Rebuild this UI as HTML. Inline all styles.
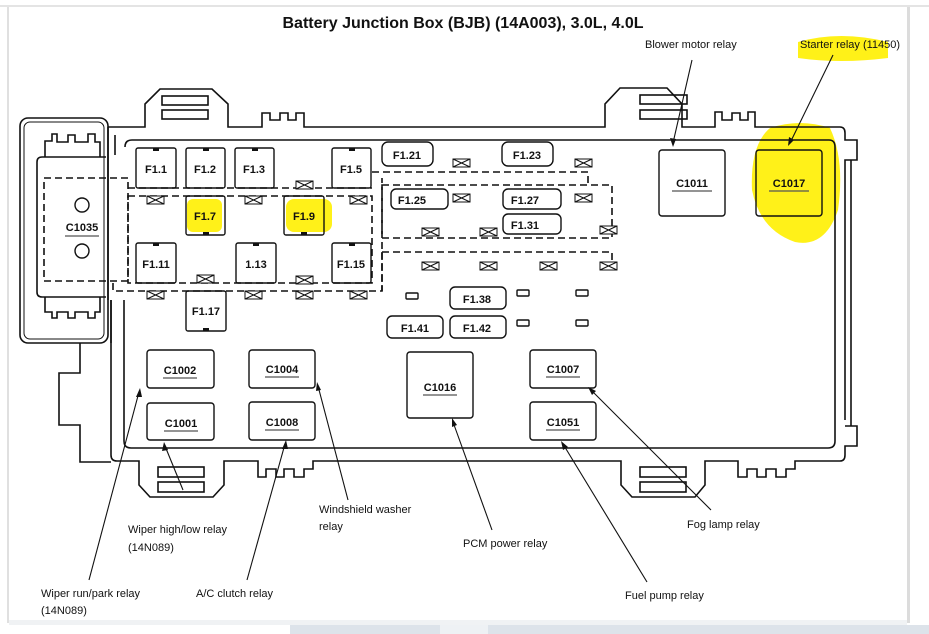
<!DOCTYPE html>
<html><head><meta charset="utf-8"><style>
html,body{margin:0;padding:0;background:#fff;width:929px;height:634px;overflow:hidden}
svg{display:block}
text{font-family:"Liberation Sans",sans-serif;fill:#111}
</style></head><body>
<svg width="929" height="634" viewBox="0 0 929 634" xmlns="http://www.w3.org/2000/svg">
<defs>
<g id="cx"><rect x="0" y="0" width="17" height="8" fill="#fff" stroke="#111" stroke-width="1"/><path d="M0 0 L17 8 M17 0 L0 8" fill="none" stroke="#111" stroke-width="1"/></g>
</defs>
<rect x="0" y="0" width="929" height="634" fill="#fff"/>
<rect x="0" y="5" width="929" height="2" fill="#e4e4e4"/>
<rect x="7" y="7" width="2" height="616" fill="#e0e0e0"/>
<rect x="907" y="7" width="3" height="616" fill="#dcdcdc"/>
<rect x="9" y="620" width="898" height="5" fill="#f0f2f4"/>
<rect x="0" y="625" width="929" height="9" fill="#fff"/>
<rect x="290" y="625" width="150" height="9" fill="#dde3ea"/>
<rect x="440" y="625" width="48" height="9" fill="#eef1f4"/>
<rect x="488" y="625" width="441" height="9" fill="#dde3ea"/>

<!-- yellow highlights -->
<g fill="#fff000" opacity="0.9">
<path d="M798 42 Q840 30 888 42 L888 58 Q840 64 798 58 Z"/>
<path d="M770 128 Q800 118 830 128 Q845 160 838 210 Q825 248 795 242 Q760 230 752 190 Q750 145 770 128 Z"/>
<rect x="187" y="199" width="35" height="33" rx="6"/>
<rect x="286" y="199" width="46" height="33" rx="8"/>
</g>

<text x="463" y="28" font-size="16" font-weight="bold" text-anchor="middle">Battery Junction Box (BJB) (14A003), 3.0L, 4.0L</text>

<g fill="none" stroke="#111" stroke-width="1.6">
<path d="M108 127 L145 127 L145 104 L160 89 L212 89 L228 104 L228 127 L262 127 L262 113 L270 113 L270 120 L280 120 L280 113 L288 113 L288 120 L296 120 L296 113 L304 113 L304 127 L605 127 L605 104 L620 88 L667 88 L682 104 L682 127 L715 127 L715 112 L722 112 L722 120 L732 120 L732 113 L740 113 L740 120 L748 120 L748 112 L755 112 L755 127 L840 127 Q845 127 845 133 L845 140 L857 140 L857 160 L845 160 L845 420"/>
<rect x="162" y="96" width="46" height="9"/>
<rect x="162" y="110" width="46" height="9"/>
<rect x="640" y="95" width="47" height="9"/>
<rect x="640" y="110" width="47" height="9"/>
<path d="M125 147 Q125 140 132 140 L829 140 Q835 140 835 147 L835 441 Q835 448 828 448 L131 448 Q124 448 124 441 L124 300"/>
<path d="M851 160 L851 426"/>
<path d="M111 300 L111 455 Q111 461 117 461 L139 461 L139 485 L150 497 L213 497 L224 485 L224 461 L258 461 L258 477 L266 477 L266 469 L276 469 L276 477 L284 477 L284 469 L294 469 L294 477 L304 477 L304 469 L313 469 L313 461 L621 461 L621 485 L632 497 L695 497 L705 485 L705 461 L738 461 L738 477 L747 477 L747 469 L757 469 L757 477 L766 477 L766 469 L776 469 L776 477 L786 477 L786 469 L795 469 L795 461 L840 461 Q845 461 845 455 L845 446 L857 446 L857 426 L845 426"/>
<rect x="158" y="467" width="46" height="10"/>
<rect x="158" y="482" width="46" height="10"/>
<rect x="640" y="467" width="46" height="10"/>
<rect x="640" y="482" width="46" height="10"/>
<rect x="20" y="118" width="88" height="225" rx="8"/>
<rect x="24" y="122" width="80" height="217" rx="6" stroke-width="1"/>
<path d="M37 162 Q37 157 42 157 L106 157 M37 162 L37 292 Q37 297 42 297 L106 297"/>
<path d="M45 157 L45 141 L52 141 L52 134 L57 134 L57 142 L68 142 L68 135 L75 135 L75 142 L88 142 L88 134 L95 134 L95 142 L100 142 L100 157"/>
<path d="M45 297 L45 312 L52 312 L52 318 L57 318 L57 312 L68 312 L68 318 L75 318 L75 312 L88 312 L88 318 L95 318 L95 312 L100 312 L100 297"/>
<path d="M80 343 L80 373 L59 373 L59 425 L80 425 L80 462 L111 462"/>
<path d="M108 127 L108 300 M115 135 L115 155 M111 300 L111 343"/>
</g>

<g fill="none" stroke="#111" stroke-width="1.6" stroke-dasharray="7,4">
<rect x="44" y="178" width="84" height="103"/>
<path d="M128 188 L372 188"/>
<rect x="128" y="196" width="244" height="87"/>
<path d="M113 283 L113 291 L382 291 L382 178"/>
<path d="M372 172 L588 172 L588 185"/>
<rect x="382" y="185" width="230" height="53"/>
<path d="M382 252 L612 252 L612 262 M382 252 L382 291"/>
</g>

<use href="#cx" x="147" y="196"/><use href="#cx" x="245" y="196"/><use href="#cx" x="296" y="181"/><use href="#cx" x="350" y="196"/>
<use href="#cx" x="197" y="275"/><use href="#cx" x="296" y="276"/>
<use href="#cx" x="147" y="291"/><use href="#cx" x="245" y="291"/><use href="#cx" x="296" y="291"/><use href="#cx" x="350" y="291"/>
<use href="#cx" x="453" y="159"/><use href="#cx" x="575" y="159"/><use href="#cx" x="453" y="194"/><use href="#cx" x="575" y="194"/>
<use href="#cx" x="422" y="228"/><use href="#cx" x="480" y="228"/><use href="#cx" x="600" y="226"/>
<use href="#cx" x="422" y="262"/><use href="#cx" x="480" y="262"/><use href="#cx" x="540" y="262"/><use href="#cx" x="600" y="262"/>

<g fill="none" stroke="#111" stroke-width="1.4">
<rect x="136" y="148" width="40" height="40" rx="2"/>
<rect x="186" y="148" width="39" height="40" rx="2"/>
<rect x="235" y="148" width="39" height="40" rx="2"/>
<rect x="332" y="148" width="39" height="40" rx="2"/>
<rect x="186" y="196" width="39" height="39" rx="2"/>
<rect x="284" y="196" width="40" height="39" rx="2"/>
<rect x="136" y="243" width="40" height="40" rx="2"/>
<rect x="236" y="243" width="40" height="40" rx="2"/>
<rect x="332" y="243" width="39" height="40" rx="2"/>
<rect x="186" y="291" width="40" height="40" rx="2"/>
<rect x="382" y="142" width="51" height="24" rx="6"/>
<rect x="502" y="142" width="51" height="24" rx="6"/>
<rect x="391" y="189" width="57" height="20" rx="5"/>
<rect x="503" y="189" width="58" height="20" rx="5"/>
<rect x="503" y="214" width="58" height="20" rx="5"/>
<rect x="450" y="287" width="56" height="22" rx="5"/>
<rect x="387" y="316" width="56" height="22" rx="5"/>
<rect x="450" y="316" width="56" height="22" rx="5"/>
<rect x="406" y="293" width="12" height="6" rx="1"/>
<rect x="517" y="290" width="12" height="6" rx="1"/>
<rect x="576" y="290" width="12" height="6" rx="1"/>
<rect x="517" y="320" width="12" height="6" rx="1"/>
<rect x="576" y="320" width="12" height="6" rx="1"/>
<circle cx="82" cy="205" r="7"/>
<circle cx="82" cy="251" r="7"/>
<rect x="659" y="150" width="66" height="66" rx="3"/>
<rect x="756" y="150" width="66" height="66" rx="3"/>
<rect x="147" y="350" width="67" height="38" rx="3"/>
<rect x="249" y="350" width="66" height="38" rx="3"/>
<rect x="407" y="352" width="66" height="66" rx="3"/>
<rect x="530" y="350" width="66" height="38" rx="3"/>
<rect x="147" y="403" width="67" height="37" rx="3"/>
<rect x="249" y="402" width="66" height="38" rx="3"/>
<rect x="530" y="402" width="66" height="38" rx="3"/>
</g>
<g fill="#111">
<rect x="153" y="148" width="6" height="3"/><rect x="203" y="148" width="6" height="3"/><rect x="252" y="148" width="6" height="3"/><rect x="349" y="148" width="6" height="3"/>
<rect x="203" y="232" width="6" height="3"/><rect x="301" y="232" width="6" height="3"/>
<rect x="153" y="243" width="6" height="3"/><rect x="253" y="243" width="6" height="3"/><rect x="349" y="243" width="6" height="3"/>
<rect x="203" y="328" width="6" height="3"/>
</g>

<g font-size="11" text-anchor="middle" font-weight="bold">
<text x="156" y="173">F1.1</text><text x="205" y="173">F1.2</text><text x="254" y="173">F1.3</text><text x="351" y="173">F1.5</text>
<text x="205" y="220">F1.7</text><text x="304" y="220">F1.9</text>
<text x="156" y="268">F1.11</text><text x="256" y="268">1.13</text><text x="351" y="268">F1.15</text>
<text x="206" y="315">F1.17</text>
<text x="407" y="159">F1.21</text><text x="527" y="159">F1.23</text>
<text x="412" y="204">F1.25</text><text x="525" y="204">F1.27</text><text x="525" y="229">F1.31</text>
<text x="477" y="303">F1.38</text><text x="415" y="332">F1.41</text><text x="477" y="332">F1.42</text>
</g>
<g font-size="11" text-anchor="middle" font-weight="bold">
<text x="82" y="231">C1035</text>
<text x="692" y="187">C1011</text><text x="789" y="187">C1017</text>
<text x="180" y="374">C1002</text><text x="282" y="373">C1004</text><text x="440" y="391">C1016</text><text x="563" y="373">C1007</text>
<text x="181" y="427">C1001</text><text x="282" y="426">C1008</text><text x="563" y="426">C1051</text>
</g>
<g stroke="#555" stroke-width="1.2">
<path d="M65 236 L99 236 M672 191 L712 191 M769 191 L809 191 M163 378 L197 378 M265 377 L299 377 M423 395 L457 395 M546 377 L580 377 M164 431 L198 431 M265 430 L299 430 M546 430 L580 430"/>
</g>

<g stroke="#111" stroke-width="1.1" fill="none">
<path d="M692 60 L673 143"/><path d="M833 55 L790 143"/>
<path d="M183 490 L165 446"/><path d="M348 500 L318 386"/>
<path d="M89 580 L139 392"/><path d="M247 580 L285 444"/>
<path d="M492 530 L453 422"/><path d="M711 510 L591 390"/>
<path d="M647 582 L563 444"/>
</g>
<g fill="#111">
<path d="M673 147 L670 138 L676 139 Z"/><path d="M788 146 L789 137 L794 140 Z"/>
<path d="M164 442 L162 451 L168 450 Z"/><path d="M317 382 L316 391 L321 390 Z"/>
<path d="M140 388 L136 397 L142 397 Z"/><path d="M286 440 L282 449 L288 449 Z"/>
<path d="M452 418 L452 427 L457 425 Z"/><path d="M588 387 L592 395 L596 391 Z"/>
<path d="M561 441 L563 450 L568 447 Z"/>
</g>

<g font-size="11">
<text x="645" y="48">Blower motor relay</text>
<text x="800" y="48">Starter relay (11450)</text>
<text x="128" y="533">Wiper high/low relay</text><text x="128" y="551">(14N089)</text>
<text x="319" y="513">Windshield washer</text><text x="319" y="530">relay</text>
<text x="463" y="547">PCM power relay</text>
<text x="687" y="528">Fog lamp relay</text>
<text x="41" y="597">Wiper run/park relay</text><text x="41" y="614">(14N089)</text>
<text x="196" y="597">A/C clutch relay</text>
<text x="625" y="599">Fuel pump relay</text>
</g>
</svg>
</body></html>
